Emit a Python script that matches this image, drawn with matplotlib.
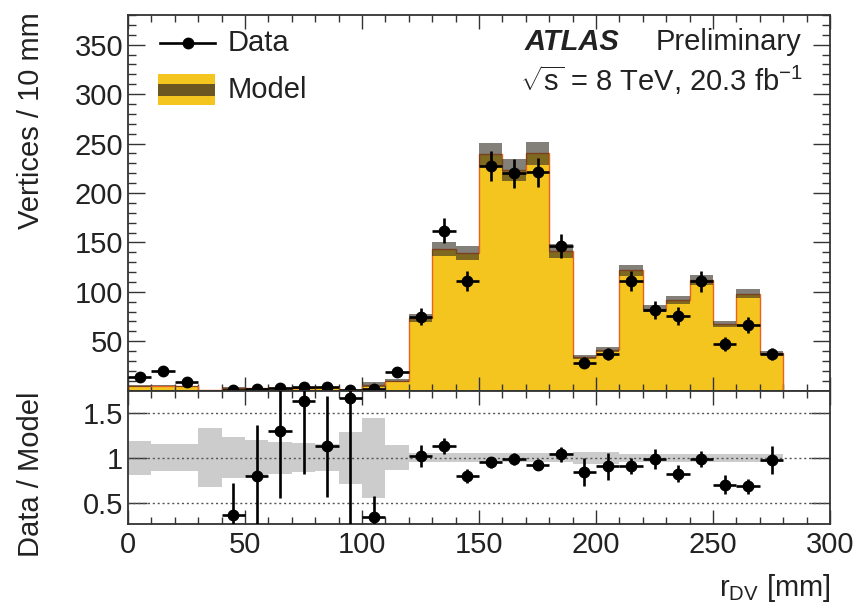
import numpy as np
import matplotlib
matplotlib.use("Agg")
import matplotlib.pyplot as plt
from matplotlib.patches import Rectangle
from matplotlib.lines import Line2D
from matplotlib.ticker import MultipleLocator, FixedLocator, FuncFormatter

# ---- data ----
bin_edges = np.arange(0, 290, 10)  # r_DV bins [mm]
model = np.array([5.0, 5.0, 4.5, 0.5, 2.8, 2.5, 2.3, 2.45, 3.55, 0.6, 6.0, 10.0,
                  73.5, 143, 139, 239, 223, 240, 141, 34, 41.5, 122, 83, 92,
                  112, 67.5, 98, 38])
model_rel_unc = np.array([0.19, 0.15, 0.15, 0.33, 0.23, 0.20, 0.18, 0.16, 0.15, 0.29,
                          0.45, 0.14, 0.05, 0.05, 0.05, 0.05, 0.05, 0.05, 0.05,
                          0.065, 0.065, 0.045, 0.045, 0.045, 0.045, 0.045, 0.045, 0.045])
data = np.array([14, 20, 9, 0, 1, 2, 3, 4, 4, 1, 2, 19,
                 75, 162, 111, 227, 220, 221, 146.5, 28.5, 37.5, 111, 82, 75.5,
                 110.5, 47.3, 66.6, 37])

main_yticks = [50, 100, 150, 200, 250, 300, 350]
ratio_yticks = [0.5, 1.0, 1.5]
xticks = [0, 50, 100, 150, 200, 250, 300]

plt.rcParams['font.family'] = ['Liberation Sans', 'DejaVu Sans']
plt.rcParams['mathtext.fontset'] = 'custom'
plt.rcParams['mathtext.rm'] = 'Liberation Sans'
plt.rcParams['mathtext.it'] = 'Liberation Sans:italic'
plt.rcParams['mathtext.bf'] = 'Liberation Sans:bold'

FS = 21
YELLOW = '#f5c51f'
OUTLINE = '#e8641e'
TXT = '#222222'

fig = plt.figure(figsize=(8.56, 6.05), dpi=100)
L, W = 128 / 856, 702 / 856
ax = fig.add_axes([L, (605 - 390.7) / 605, W, 375.7 / 605])
rax = fig.add_axes([L, (605 - 524) / 605, W, 133.3 / 605])

centers = 0.5 * (bin_edges[:-1] + bin_edges[1:])
halfw = 0.5 * np.diff(bin_edges)

# ---- main panel ----
ax.stairs(model, bin_edges, fill=True, color=YELLOW, lw=0, zorder=1)
ax.stairs(model, bin_edges, color=OUTLINE, lw=1.0, zorder=2)
lo = model * (1 - model_rel_unc)
hi = model * (1 + model_rel_unc)
ax.stairs(hi, bin_edges, baseline=lo, fill=True, color='#302a20', alpha=0.6, lw=0, zorder=3)

m = data > 0
ax.errorbar(centers[m], data[m], xerr=halfw[m], yerr=np.sqrt(data[m]), fmt='o',
            color='black', ms=7.5, elinewidth=1.9, capsize=0, zorder=5)

ax.set_xlim(0, 300)
ax.set_ylim(0, 380)
ax.yaxis.set_major_locator(FixedLocator(main_yticks))
ax.yaxis.set_minor_locator(MultipleLocator(10))
ax.xaxis.set_major_locator(FixedLocator(xticks))
ax.xaxis.set_minor_locator(MultipleLocator(10))
ax.tick_params(axis='both', which='both', direction='in', top=True, right=True,
               labelsize=FS, width=1.0, color='#333333', labelcolor=TXT)
ax.tick_params(axis='y', which='major', length=12)
ax.tick_params(axis='y', which='minor', length=6)
ax.tick_params(axis='x', which='major', length=10)
ax.tick_params(axis='x', which='minor', length=5)
ax.tick_params(axis='x', labelbottom=False)
for s in ax.spines.values():
    s.set_linewidth(1.3)
    s.set_color('#333333')

# legend (drawn by hand, ROOT style)
def axx(px):
    return (px - 128) / 702

def axy(py):
    return (390.7 - py) / 375.7

ax.add_line(Line2D([axx(160), axx(215)], [axy(43), axy(43)], color='black', lw=1.9,
                   transform=ax.transAxes, zorder=6))
ax.add_line(Line2D([axx(187.5)], [axy(43)], marker='o', ms=7.5, color='black',
                   transform=ax.transAxes, zorder=6))
ax.text(axx(228), axy(43), 'Data', transform=ax.transAxes, fontsize=FS, color=TXT,
        va='center', ha='left')
ax.add_patch(Rectangle((axx(158), axy(105)), axx(215) - axx(158), axy(74) - axy(105),
                       transform=ax.transAxes, facecolor=YELLOW, edgecolor='none', zorder=6))
ax.add_patch(Rectangle((axx(158), axy(96)), axx(215) - axx(158), axy(84) - axy(96),
                       transform=ax.transAxes, facecolor='#6b5622', edgecolor='none', zorder=7))
ax.text(axx(228), axy(90), 'Model', transform=ax.transAxes, fontsize=FS, color=TXT,
        va='center', ha='left')

ax.text(axx(525), axy(42), 'ATLAS', transform=ax.transAxes, fontsize=FS, fontweight='bold',
        fontstyle='italic', color=TXT, va='center', ha='left')
ax.text(axx(801), axy(42), 'Preliminary', transform=ax.transAxes, fontsize=FS, color=TXT,
        va='center', ha='right')
ax.text(axx(803), axy(80), r'$\sqrt{\mathrm{s}}$ = 8 TeV, 20.3 fb$^{-1}$', transform=ax.transAxes,
        fontsize=FS, color=TXT, va='center', ha='right')

# ---- ratio panel ----
rax.stairs(1 + model_rel_unc, bin_edges, baseline=1 - model_rel_unc, fill=True,
           color='#cccccc', lw=0, zorder=1)
for yv in ratio_yticks:
    rax.axhline(yv, color='#555555', lw=1.0, ls=(0, (1.5, 2.0)), zorder=2)

r_lo, r_hi = 0.26, 1.75
ratio = np.where(data > 0, data / model, np.nan)
ratio_err = np.sqrt(data) / model
show = (data > 0) & (ratio > r_lo) & (ratio < r_hi)
rax.errorbar(centers[show], ratio[show], xerr=halfw[show], yerr=ratio_err[show], fmt='o',
             color='black', ms=7.5, elinewidth=1.9, capsize=0, zorder=5)

rax.set_xlim(0, 300)
rax.set_ylim(r_lo, r_hi)
rax.yaxis.set_major_locator(FixedLocator(ratio_yticks))
rax.yaxis.set_major_formatter(FuncFormatter(lambda v, p: f'{v:g}'))
rax.xaxis.set_major_locator(FixedLocator(xticks))
rax.xaxis.set_minor_locator(MultipleLocator(10))
rax.tick_params(axis='both', which='both', direction='in', top=True, right=True,
                labelsize=FS, width=1.0, color='#333333', labelcolor=TXT)
rax.tick_params(axis='y', which='major', length=14)
rax.tick_params(axis='x', which='major', length=10)
rax.tick_params(axis='x', which='minor', length=5)
rax.tick_params(axis='x', which='major', pad=5)
for s in rax.spines.values():
    s.set_linewidth(1.3)
    s.set_color('#333333')

fig.text(31 / 856, 1 - 121 / 605, 'Vertices / 10 mm', rotation=90, fontsize=FS, color=TXT,
         ha='center', va='center')
fig.text(31 / 856, 1 - 474 / 605, 'Data / Model', rotation=90, fontsize=FS, color=TXT,
         ha='center', va='center')
fig.text(831 / 856, 1 - 588 / 605, r'r$_{\mathrm{DV}}$ [mm]', fontsize=FS, color=TXT,
         ha='right', va='center')

fig.savefig('out.png', dpi=100)
